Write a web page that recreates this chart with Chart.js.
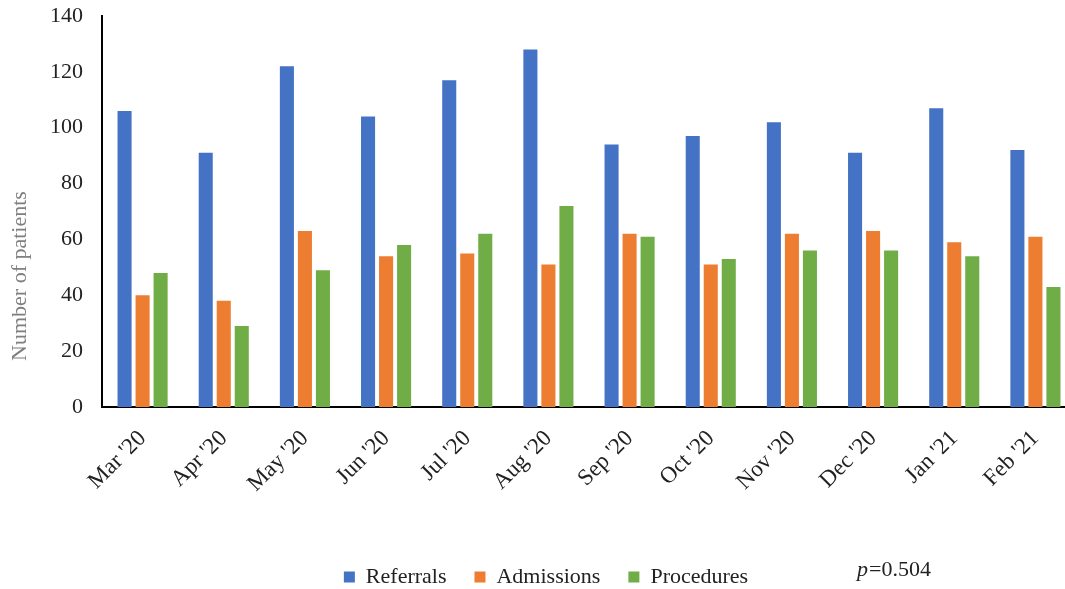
<!DOCTYPE html>
<html>
<head>
<meta charset="utf-8">
<script src="https://cdn.jsdelivr.net/npm/chart.js@4"></script>
<style>
  html, body { margin: 0; padding: 0; background: #fff; overflow: hidden; }
  #wrap { position: relative; width: 1076px; height: 589px; }
</style>
</head>
<body>
<div id="wrap"><canvas id="chart"></canvas></div>
<script>
// months on the x axis
const months = ["Mar '20", "Apr '20", "May '20", "Jun '20", "Jul '20", "Aug '20",
  "Sep '20", "Oct '20", "Nov '20", "Dec '20", "Jan '21", "Feb '21"];

// monthly counts
const referrals = [106, 91, 122, 104, 117, 128, 94, 97, 102, 91, 107, 92];
const admissions = [40, 38, 63, 54, 55, 51, 62, 51, 62, 63, 59, 61];
const procedures = [48, 29, 49, 58, 62, 72, 61, 53, 56, 56, 54, 43];

const yTicks = [0, 20, 40, 60, 80, 100, 120, 140];
const yTitle = "Number of patients";
const pText = "=0.504";

const serif = "'Liberation Serif', 'DejaVu Serif', serif";

// y title sits lower than the axis centre in the original, and the p value is a loose note
const extraText = {
  id: "extraText",
  afterDraw(chart) {
    const ctx = chart.ctx;
    ctx.save();
    ctx.fillStyle = "#7f7f7f";
    ctx.font = "22px " + serif;
    ctx.textAlign = "center";
    ctx.textBaseline = "middle";
    ctx.translate(20, 276);
    ctx.rotate(-Math.PI / 2);
    ctx.fillText(yTitle, 0, 0);
    ctx.restore();

    ctx.save();
    ctx.fillStyle = "#222";
    ctx.textBaseline = "alphabetic";
    ctx.font = "italic 22px " + serif;
    ctx.fillText("p", 857, 576);
    const w = ctx.measureText("p").width;
    ctx.font = "22px " + serif;
    ctx.fillText(pText, 857 + w + 1, 576);
    ctx.restore();
  },
};

new Chart(document.getElementById("chart"), {
  type: "bar",
  data: {
    labels: months,
    datasets: [
      { label: "Referrals", data: referrals, backgroundColor: "#4472C4" },
      { label: "Admissions", data: admissions, backgroundColor: "#ED7D31" },
      { label: "Procedures", data: procedures, backgroundColor: "#70AD47" },
    ],
  },
  options: {
    responsive: true,
    maintainAspectRatio: false,
    animation: false,
    categoryPercentage: 0.666,
    barPercentage: 0.78,
    layout: { padding: { top: 16, left: 16, right: 0, bottom: -9 } },
    scales: {
      x: {
        grid: { display: false, drawTicks: false },
        border: { display: true, color: "#000", width: 2 },
        ticks: {
          color: "#222",
          font: { family: serif, size: 23 },
          minRotation: 45,
          maxRotation: 45,
          padding: 18,
        },
        afterFit(scale) { scale.height = 131; },
      },
      y: {
        min: 0,
        max: 140,
        afterBuildTicks(scale) { scale.ticks = yTicks.map((v) => ({ value: v })); },
        grid: { display: false, drawTicks: false },
        border: { display: true, color: "#000", width: 2 },
        ticks: {
          color: "#222",
          font: { family: serif, size: 22 },
          padding: 19,
        },
        afterFit(scale) {
          scale.width = 86;
          scale.paddingTop = 0;
          scale.paddingBottom = 0;
        },
      },
    },
    plugins: {
      legend: {
        position: "bottom",
        labels: {
          color: "#222",
          font: { family: serif, size: 22 },
          boxWidth: 11,
          boxHeight: 11,
          padding: 28,
        },
      },
      tooltip: { enabled: false },
    },
  },
  plugins: [extraText],
});
</script>
</body>
</html>
